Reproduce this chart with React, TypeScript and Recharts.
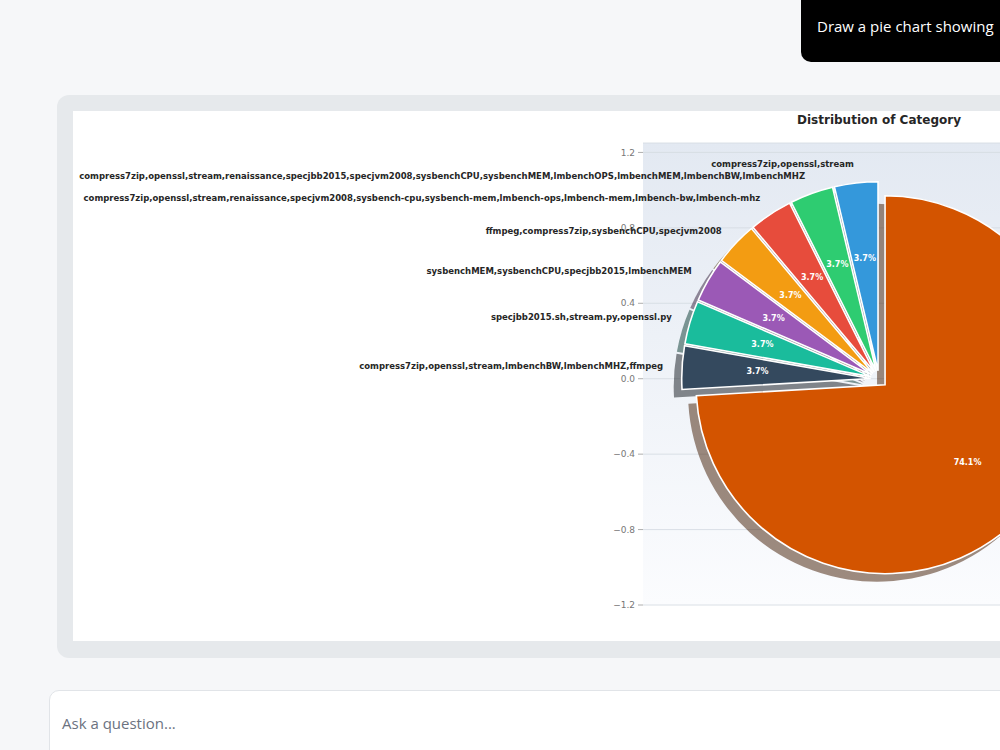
import { ComposedChart, XAxis, YAxis, CartesianGrid, Scatter, PieChart, Pie, Cell } from "recharts";

const categories = [
  "compress7zip,openssl,stream",
  "compress7zip,openssl,stream,renaissance,specjbb2015,specjvm2008,sysbenchCPU,sysbenchMEM,lmbenchOPS,lmbenchMEM,lmbenchBW,lmbenchMHZ",
  "compress7zip,openssl,stream,renaissance,specjvm2008,sysbench-cpu,sysbench-mem,lmbench-ops,lmbench-mem,lmbench-bw,lmbench-mhz",
  "ffmpeg,compress7zip,sysbenchCPU,specjvm2008",
  "sysbenchMEM,sysbenchCPU,specjbb2015,lmbenchMEM",
  "specjbb2015.sh,stream.py,openssl.py",
  "compress7zip,openssl,stream,lmbenchBW,lmbenchMHZ,ffmpeg",
  "compress7zip,openssl,stream,ffmpeg",
];
const counts = [1, 1, 1, 1, 1, 1, 1, 20];
const colors = ["#3498db", "#2ecc71", "#e74c3c", "#f39c12", "#9b59b6", "#1abc9c", "#34495e", "#d35400"];
const yTicks = [-1.2, -0.8, -0.4, 0, 0.4, 0.8, 1.2];
const pieCenter = [{ x: 0, y: 0 }];

const W = 1042;
const H = 530;
const VISIBLE_W = 927;
const R = 189;
const CX = 806;
const CY = 268;
const EXPLODE = 0.044;
const SHADOW = 8;
const RAD = Math.PI / 180;
const FONT = "'DejaVu Sans', sans-serif";

const pieData = categories.map((name, i) => ({ name, value: counts[i] }));
const total = counts.reduce((a, b) => a + b, 0);

let acc = 0;
const slices = counts.map((c, i) => {
  const mid = 90 + (360 * (acc + c / 2)) / total;
  acc += c;
  return {
    i,
    dx: EXPLODE * R * Math.cos(mid * RAD),
    dy: -EXPLODE * R * Math.sin(mid * RAD),
  };
});

// matplotlib-style shadow: 30% of the wedge colour at half opacity
function shadowOf(hex: string) {
  const n = parseInt(hex.slice(1), 16);
  const r = Math.round(((n >> 16) & 255) * 0.3);
  const g = Math.round(((n >> 8) & 255) * 0.3);
  const b = Math.round((n & 255) * 0.3);
  return `rgb(${r},${g},${b})`;
}

function makeLabel(idx: number) {
  return (p: any) => {
    if (p.index !== idx) return null;
    const a = -p.midAngle * RAD;
    const lx = p.cx + p.outerRadius * 1.1 * Math.cos(a);
    const ly = p.cy + p.outerRadius * 1.1 * Math.sin(a);
    const px = p.cx + p.outerRadius * 0.6 * Math.cos(a);
    const py = p.cy + p.outerRadius * 0.6 * Math.sin(a);
    return (
      <g>
        {lx < VISIBLE_W && (
          <text x={lx} y={ly} textAnchor={lx < p.cx ? "end" : "start"} dominantBaseline="central"
            fontFamily={FONT} fontWeight="bold" fontSize={8.5} fill="#262626">
            {p.name}
          </text>
        )}
        <text x={px} y={py} textAnchor="middle" dominantBaseline="central"
          fontFamily={FONT} fontWeight="bold" fontSize={8} fill="#ffffff">
          {(p.percent * 100).toFixed(1)}%
        </text>
      </g>
    );
  };
}

function CategoryPie() {
  return (
    <div style={{ position: "relative", width: W, height: H }}>
      <div style={{ position: "absolute", left: 0, top: 0 }}>
        <ComposedChart width={W} height={H} data={pieCenter} margin={{ top: 32, right: 0, bottom: 36, left: 510 }}>
          <defs>
            <linearGradient id="plotBg" x1="0" y1="0" x2="0" y2="1">
              <stop offset="0%" stopColor="#e3e9f2" />
              <stop offset="100%" stopColor="#fbfcfe" />
            </linearGradient>
          </defs>
          <CartesianGrid vertical={false} fill="url(#plotBg)" stroke="#d6dce3" strokeWidth={0.9} />
          <XAxis type="number" dataKey="x" domain={[-1.25, 1.25]} hide />
          <YAxis type="number" dataKey="y" domain={[-1.2, 1.25]} ticks={yTicks} width={60}
            axisLine={false} tickSize={5} tickMargin={3}
            tickLine={{ stroke: "#999", strokeWidth: 0.8 }}
            tick={{ fontFamily: FONT, fontSize: 9, fill: "#777" }}
            tickFormatter={(v: number) => (v < 0 ? "\u2212" + Math.abs(v).toFixed(1) : v.toFixed(1))} />
          <Scatter dataKey="y" fill="none" isAnimationActive={false} shape={() => <g />} />
        </ComposedChart>
      </div>
      <div style={{ position: "absolute", left: 0, top: 0 }}>
        <PieChart width={W} height={H} margin={{ top: 0, right: 0, bottom: 0, left: 0 }}>
          {slices.map((s) => (
            <Pie key={"sh" + s.i} data={pieData} dataKey="value" nameKey="name"
              cx={CX + s.dx - SHADOW} cy={CY + s.dy + SHADOW} outerRadius={R}
              startAngle={90} endAngle={450} isAnimationActive={false} labelLine={false} stroke="none">
              {pieData.map((_, j) => (
                <Cell key={j} fill={j === s.i ? shadowOf(colors[j]) : "none"} fillOpacity={0.5} stroke="none" />
              ))}
            </Pie>
          ))}
          {slices.map((s) => (
            <Pie key={"w" + s.i} data={pieData} dataKey="value" nameKey="name"
              cx={CX + s.dx} cy={CY + s.dy} outerRadius={R}
              startAngle={90} endAngle={450} isAnimationActive={false} labelLine={false}
              label={makeLabel(s.i)}>
              {pieData.map((_, j) => (
                <Cell key={j} fill={j === s.i ? colors[j] : "none"}
                  stroke={j === s.i ? "#ffffff" : "none"} strokeWidth={1.6} />
              ))}
            </Pie>
          ))}
        </PieChart>
      </div>
      <div style={{ position: "absolute", left: CX - 200, top: 2, width: 400, textAlign: "center",
        fontFamily: FONT, fontWeight: "bold", fontSize: 12, color: "#262626" }}>
        Distribution of Category
      </div>
    </div>
  );
}

export default function App() {
  return (
    <div style={{ position: "fixed", left: 0, top: 0, width: 1000, height: 750, overflow: "hidden",
      background: "#f6f7f9", fontFamily: "'Open Sans', sans-serif" }}>
      <div style={{ position: "absolute", left: 801, top: -12, width: 260, height: 74, background: "#000",
        borderRadius: 10 }}>
        <div style={{ position: "absolute", left: 16, top: 28, color: "#fff", fontSize: 15, whiteSpace: "nowrap" }}>
          Draw a pie chart showing
        </div>
      </div>
      <div style={{ position: "absolute", left: 57, top: 95, width: 1000, height: 563, background: "#e6e9ec",
        borderRadius: 12 }}>
        <div style={{ position: "absolute", left: 16, top: 16, width: 990, height: 530, background: "#fff",
          overflow: "hidden" }}>
          <CategoryPie />
        </div>
      </div>
      <div style={{ position: "absolute", left: 49, top: 690, width: 1000, height: 100, background: "#fff",
        border: "1px solid #e1e4e8", borderRadius: 10 }}>
        <div style={{ position: "absolute", left: 12, top: 22, color: "#6b7280", fontSize: 15 }}>
          Ask a question...
        </div>
      </div>
    </div>
  );
}
